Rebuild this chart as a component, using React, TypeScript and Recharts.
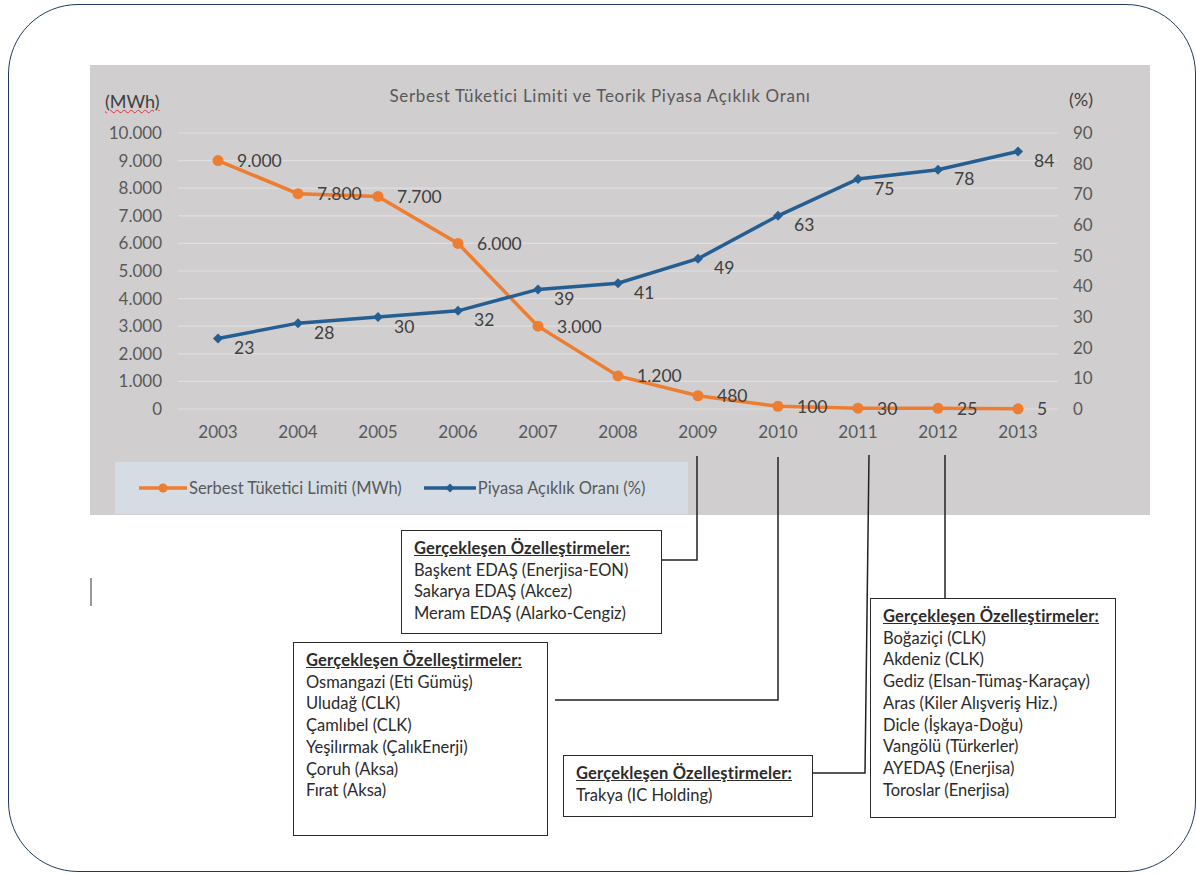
import React from 'react';
import { LineChart, Line, XAxis, YAxis, CartesianGrid } from 'recharts';

const years = ['2003', '2004', '2005', '2006', '2007', '2008', '2009', '2010', '2011', '2012', '2013'];
const limitMWh = [9000, 7800, 7700, 6000, 3000, 1200, 480, 100, 30, 25, 5];
const openingPct = [23, 28, 30, 32, 39, 41, 49, 63, 75, 78, 84];
const leftTicks = [0, 1000, 2000, 3000, 4000, 5000, 6000, 7000, 8000, 9000, 10000];
const rightTicks = [0, 10, 20, 30, 40, 50, 60, 70, 80, 90];

const privat2009 = ['Başkent EDAŞ (Enerjisa-EON)', 'Sakarya EDAŞ (Akcez)', 'Meram EDAŞ (Alarko-Cengiz)'];
const privat2010 = [
  'Osmangazi (Eti Gümüş)',
  'Uludağ (CLK)',
  'Çamlıbel (CLK)',
  'Yeşilırmak (ÇalıkEnerji)',
  'Çoruh (Aksa)',
  'Fırat (Aksa)',
];
const privat2011 = ['Trakya (IC Holding)'];
const privat2012 = [
  'Boğaziçi (CLK)',
  'Akdeniz (CLK)',
  'Gediz (Elsan-Tümaş-Karaçay)',
  'Aras (Kiler Alışveriş Hiz.)',
  'Dicle (İşkaya-Doğu)',
  'Vangölü (Türkerler)',
  'AYEDAŞ (Enerjisa)',
  'Toroslar (Enerjisa)',
];

const data = years.map((year, i) => ({ year, limit: limitMWh[i], pct: openingPct[i] }));

const ORANGE = '#ed7d31';
const BLUE = '#255e91';
const TICK = '#595959';
const FONT = 'Lato, "Open Sans", sans-serif';

const fmt = (n: number) => String(n).replace(/\B(?=(\d{3})+(?!\d))/g, '.');

const Diamond = (props: any) => {
  const { cx, cy } = props;
  if (cx == null || cy == null) return null;
  const s = 5;
  return <polygon points={`${cx},${cy - s} ${cx + s},${cy} ${cx},${cy + s} ${cx - s},${cy}`} fill={BLUE} />;
};

const OrangeLabel = (props: any) => {
  const { x, y, value } = props;
  return (
    <text x={x + 19} y={y} dominantBaseline="central" fontSize={17.5} fill="#404040" fontFamily={FONT}>
      {fmt(value)}
    </text>
  );
};

const BlueLabel = (props: any) => {
  const { x, y, value } = props;
  return (
    <text x={x + 16} y={y + 9} dominantBaseline="central" fontSize={17.5} fill="#404040" fontFamily={FONT}>
      {value}
    </text>
  );
};

function Box({ items, style }: { items: string[]; style: React.CSSProperties }) {
  return (
    <div
      style={{
        position: 'absolute',
        boxSizing: 'border-box',
        border: '1.5px solid #2a2a2a',
        background: '#fff',
        padding: '7px 12px',
        fontSize: 16.5,
        lineHeight: '21.7px',
        color: '#2b2b2b',
        whiteSpace: 'nowrap',
        ...style,
      }}
    >
      <div style={{ fontWeight: 700, textDecoration: 'underline', letterSpacing: 0.2 }}>Gerçekleşen Özelleştirmeler:</div>
      {items.map((t) => (
        <div key={t}>{t}</div>
      ))}
    </div>
  );
}

// x position of a year on the page (plot 178..1058, 40px padding each side)
const xOf = (i: number) => 218 + i * 80;

export default function App() {
  return (
    <div style={{ position: 'absolute', left: 0, top: 0, width: 1197, height: 875, fontFamily: FONT, background: '#fff', overflow: 'hidden' }}>
      <div
        style={{
          position: 'absolute',
          left: 8,
          top: 4,
          width: 1188,
          height: 868,
          boxSizing: 'border-box',
          border: '1.5px solid #1f3a5f',
          borderRadius: 70,
        }}
      />
      <div style={{ position: 'absolute', left: 90, top: 65, width: 1060, height: 450, background: '#d0cece' }}>
        <LineChart width={1060} height={450} data={data} margin={{ top: 68, right: 22, bottom: 76, left: 18 }}>
          <CartesianGrid yAxisId="left" vertical={false} stroke="#e0dfdf" strokeWidth={1.2} />
          <XAxis
            dataKey="year"
            axisLine={false}
            tickLine={false}
            padding={{ left: 40, right: 40 }}
            tick={{ fontSize: 17, fill: TICK, fontFamily: FONT }}
            tickMargin={11}
            height={30}
            interval={0}
          />
          <YAxis
            yAxisId="left"
            domain={[0, 10000]}
            ticks={leftTicks}
            tickFormatter={fmt}
            axisLine={false}
            tickLine={false}
            width={70}
            tickMargin={10}
            tick={{ fontSize: 17, fill: TICK, fontFamily: FONT }}
          />
          <YAxis
            yAxisId="right"
            orientation="right"
            domain={[0, 90]}
            ticks={rightTicks}
            axisLine={false}
            tickLine={false}
            width={70}
            tickMargin={9}
            tick={{ fontSize: 17, fill: TICK, fontFamily: FONT, textAnchor: 'start' }}
          />
          <Line
            yAxisId="left"
            dataKey="limit"
            stroke={ORANGE}
            strokeWidth={3.5}
            dot={{ r: 5.5, fill: ORANGE, stroke: ORANGE, strokeWidth: 0 }}
            label={<OrangeLabel />}
            isAnimationActive={false}
          />
          <Line
            yAxisId="right"
            dataKey="pct"
            stroke={BLUE}
            strokeWidth={3.5}
            dot={<Diamond />}
            label={<BlueLabel />}
            isAnimationActive={false}
          />
        </LineChart>
        <div style={{ position: 'absolute', left: 0, right: 40, top: 20, textAlign: 'center', fontSize: 17, letterSpacing: 0.7, color: TICK }}>
          Serbest Tüketici Limiti ve Teorik Piyasa Açıklık Oranı
        </div>
        <div
          style={{
            position: 'absolute',
            left: 15,
            top: 25,
            fontSize: 18,
            color: '#404040',
            textDecoration: 'underline wavy #e03030',
            textDecorationThickness: 1,
          }}
        >
          (MWh)
        </div>
        <div style={{ position: 'absolute', left: 979, top: 23, fontSize: 18, color: '#404040' }}>(%)</div>
        <div
          style={{
            position: 'absolute',
            left: 25,
            top: 397,
            width: 573,
            height: 52,
            background: '#d6dce4',
            display: 'flex',
            alignItems: 'center',
            fontSize: 16.5,
            color: TICK,
            whiteSpace: 'nowrap',
          }}
        >
          <svg width={48} height={12} style={{ marginLeft: 24 }}>
            <line x1={0} y1={6} x2={48} y2={6} stroke={ORANGE} strokeWidth={3.5} />
            <circle cx={24} cy={6} r={4.5} fill={ORANGE} />
          </svg>
          <span style={{ marginLeft: 2 }}>Serbest Tüketici Limiti (MWh)</span>
          <svg width={52} height={12} style={{ marginLeft: 22 }}>
            <line x1={0} y1={6} x2={52} y2={6} stroke={BLUE} strokeWidth={3.5} />
            <polygon points="26,1.5 30.5,6 26,10.5 21.5,6" fill={BLUE} />
          </svg>
          <span style={{ marginLeft: 2 }}>Piyasa Açıklık Oranı (%)</span>
        </div>
      </div>
      <svg width={1197} height={875} style={{ position: 'absolute', left: 0, top: 0, pointerEvents: 'none' }}>
        <g stroke="#222" strokeWidth={1.5} fill="none">
          <polyline points={`${xOf(6) - 1},456 ${xOf(6) - 1},560 661,560`} />
          <polyline points={`${xOf(7)},457 ${xOf(7)},700 555,700`} />
          <polyline points={`${xOf(8) + 11},455 ${xOf(8) + 7},773 812,773`} />
          <polyline points={`${xOf(9) + 7},455 ${xOf(9) + 7},598`} />
        </g>
        <line x1={91} y1={578} x2={91} y2={606} stroke="#333" strokeWidth={1} />
      </svg>
      <Box items={privat2009} style={{ left: 401, top: 530, width: 261, height: 104 }} />
      <Box items={privat2010} style={{ left: 293, top: 642, width: 255, height: 194 }} />
      <Box items={privat2011} style={{ left: 563, top: 755, width: 250, height: 62 }} />
      <Box items={privat2012} style={{ left: 870, top: 598, width: 246, height: 220 }} />
    </div>
  );
}
